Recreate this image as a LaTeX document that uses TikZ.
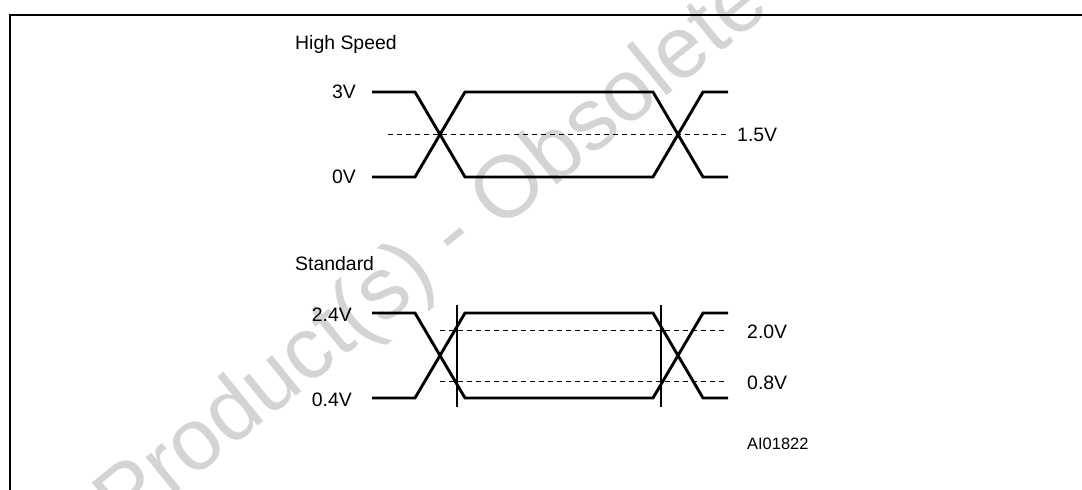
\documentclass[tikz,border=0pt]{standalone}
\usepackage{fontspec}
\setmainfont{Liberation Sans}
\begin{document}
\begin{tikzpicture}[x=1bp,y=-1bp,
  sig/.style={line width=2.9bp,line join=miter},
  lvl/.style={line width=0.9bp,dash pattern=on 4.5bp off 4.5bp},
  mark line/.style={line width=1.1bp},
  frame/.style={line width=2.4bp},
  lbl/.style={inner sep=0pt,font=\fontsize{19.5}{23}\selectfont},
  small lbl/.style={inner sep=0pt,font=\fontsize{16.5}{19}\selectfont},
  wm/.style={inner sep=0pt,text=black!17,font=\fontsize{88}{100}\selectfont}]
\useasboundingbox (0,0) rectangle (1082,490);
% watermark
\begin{scope}
\clip (0,0) rectangle (1082,490);
\node[wm,rotate=39] (wmark) at (455,238) {Obsolete Product(s) - Obsolete Product(s)};
\end{scope}
% frame
\draw[frame] (10,490) -- (10,15) -- (1082,15);
% High Speed
\node[lbl,anchor=base west] (hs) at (295,50) {High Speed};
\node[lbl,anchor=east] (v3) at (356,92) {3V};
\node[lbl,anchor=east] (v0) at (356,177) {0V};
\node[lbl,anchor=west] (v15) at (737,135) {1.5V};
\draw[lvl] (388,134.5) -- (728,134.5);
\draw[sig] (372,92) -- (415,92) -- (465,177) -- (653,177) -- (703,92) -- (728,92);
\draw[sig] (372,177) -- (415,177) -- (465,92) -- (653,92) -- (703,177) -- (728,177);
% Standard
\node[lbl,anchor=base west] (st) at (295,271) {Standard};
\node[lbl,anchor=east] (v24) at (352,315) {2.4V};
\node[lbl,anchor=east] (v04) at (352,400) {0.4V};
\node[lbl,anchor=west] (v20) at (747,332) {2.0V};
\node[lbl,anchor=west] (v08) at (747,383) {0.8V};
\node[small lbl,anchor=west] (ai) at (747,444) {AI01822};
\draw[lvl] (440,330) -- (728,330);
\draw[lvl] (440,381) -- (728,381);
\draw[mark line] (457,305) -- (457,407);
\draw[mark line] (661,305) -- (661,407);
\draw[sig] (372,313) -- (415,313) -- (465,398) -- (653,398) -- (703,313) -- (728,313);
\draw[sig] (372,398) -- (415,398) -- (465,313) -- (653,313) -- (703,398) -- (728,398);
\end{tikzpicture}
\end{document}
